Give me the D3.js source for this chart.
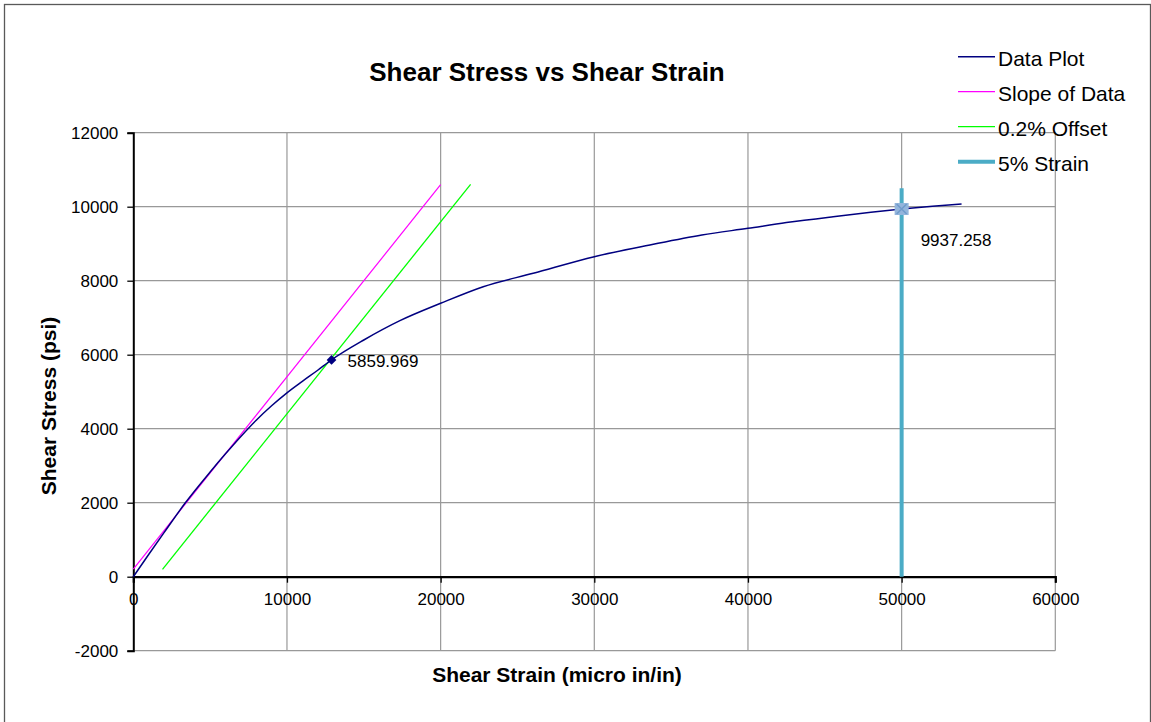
<!DOCTYPE html>
<html>
<head>
<meta charset="utf-8">
<script src="https://cdn.jsdelivr.net/npm/d3@7"></script>
<style>
  html, body { margin: 0; padding: 0; background: #fff; }
  svg { display: block; font-family: "Liberation Sans", Arial, sans-serif; }
</style>
</head>
<body>
<svg id="chart" width="1151" height="722"></svg>
<script>
// Measured shear test data (micro in/in vs psi)
const strain = [0, 1000, 2000, 3364, 5000, 6000, 7000, 8000, 9000, 10000, 11000, 12000, 12900,
                15000, 17350, 20000, 22770, 26025, 30000, 33620, 37000, 40000, 42500, 45540,
                48000, 50000, 52000, 53900];
const stress = [0, 600, 1190, 1984, 2830, 3320, 3790, 4230, 4620, 4970, 5280, 5580, 5860,
                6397, 6919, 7389, 7838, 8200, 8649, 8965, 9235, 9416, 9570, 9730,
                9850, 9937, 10010, 10073];

// Linear fit of the elastic region
const slopeX = [0, 20000];
const slopeY = [208, 10595];

// Same line shifted by the 0.2% offset
const offsetX = [1900, 21950];
const offsetY = [200, 10605];

// 5% strain reference line
const strainLineX = [50000, 50000];
const strainLineY = [0, 10500];

// Highlighted points
const yieldPoint = { x: 12900, y: 5859.969 };
const fivePctPoint = { x: 50000, y: 9937.258 };

const xTicks = [0, 10000, 20000, 30000, 40000, 50000, 60000];
const yTicks = [-2000, 0, 2000, 4000, 6000, 8000, 10000, 12000];

const legendLabels = ["Data Plot", "Slope of Data", "0.2% Offset", "5% Strain"];
const legendColors = ["#000080", "#FF00FF", "#00FF00", "#4BACC6"];
const legendWidths = [1.5, 1.2, 1.2, 4];

const svg = d3.select("#chart");

// chart border
svg.append("rect")
  .attr("x", 4.5).attr("y", 4.5)
  .attr("width", 1146).attr("height", 730)
  .attr("fill", "none").attr("stroke", "#595959").attr("stroke-width", 1.3);

const x = d3.scaleLinear().domain([0, 60000]).range([133.3, 1055.3]);
const y = d3.scaleLinear().domain([-2000, 12000]).range([650.7, 132.7]);

// gridlines
const grid = svg.append("g").attr("stroke", "#999").attr("stroke-width", 1.2);
grid.selectAll("line.v").data(xTicks.slice(1)).join("line")
  .attr("x1", d => x(d)).attr("x2", d => x(d))
  .attr("y1", y(-2000)).attr("y2", y(12000));
grid.selectAll("line.h").data(yTicks).join("line")
  .attr("x1", x(0)).attr("x2", x(60000))
  .attr("y1", d => y(d)).attr("y2", d => y(d));

const plain = d => String(d);

// y axis at x = 0
const yAxis = d3.axisLeft(y).tickValues(yTicks).tickSize(6).tickPadding(9).tickFormat(plain);
const gy = svg.append("g").attr("transform", `translate(${x(0)},0)`).call(yAxis);
gy.select(".domain").attr("stroke", "#000").attr("stroke-width", 2);
gy.selectAll(".tick line").attr("stroke", "#000").attr("stroke-width", 1.3);
gy.selectAll(".tick text").attr("font-size", 17).attr("fill", "#000")
  .attr("font-family", "Liberation Sans, Arial, sans-serif");

// x axis at y = 0
const xAxis = d3.axisBottom(x).tickValues(xTicks).tickSize(6).tickPadding(10).tickFormat(plain);
const gx = svg.append("g").attr("transform", `translate(0,${y(0)})`).call(xAxis);
gx.select(".domain").attr("stroke", "#000").attr("stroke-width", 2.2);
gx.selectAll(".tick line").attr("stroke", "#000").attr("stroke-width", 1.3);
gx.selectAll(".tick text").attr("font-size", 17).attr("fill", "#000")
  .attr("font-family", "Liberation Sans, Arial, sans-serif");

const line = d3.line().x(d => x(d[0])).y(d => y(d[1]));

// slope and offset lines
svg.append("path").datum(d3.zip(slopeX, slopeY))
  .attr("d", line).attr("fill", "none").attr("stroke", "#FF00FF").attr("stroke-width", 1.2);
svg.append("path").datum(d3.zip(offsetX, offsetY))
  .attr("d", line).attr("fill", "none").attr("stroke", "#00FF00").attr("stroke-width", 1.3);

// 5% strain line
svg.append("path").datum(d3.zip(strainLineX, strainLineY))
  .attr("d", line).attr("fill", "none").attr("stroke", "#4BACC6").attr("stroke-width", 4);

// data curve
svg.append("path").datum(d3.zip(strain, stress))
  .attr("d", line.curve(d3.curveMonotoneX)).attr("fill", "none")
  .attr("stroke", "#000080").attr("stroke-width", 1.5);

// yield marker
svg.append("path")
  .attr("d", d3.symbol(d3.symbolDiamond2, 60)())
  .attr("transform", `translate(${x(yieldPoint.x)},${y(yieldPoint.y)})`)
  .attr("fill", "#000080");
svg.append("text")
  .attr("x", x(yieldPoint.x) + 16).attr("y", y(yieldPoint.y) + 7)
  .attr("font-size", 17).text(yieldPoint.y.toFixed(3));

// 5% strain marker
const m = svg.append("g").attr("transform", `translate(${x(fivePctPoint.x)},${y(fivePctPoint.y)})`);
m.append("rect").attr("x", -7).attr("y", -6).attr("width", 14).attr("height", 12).attr("fill", "#93B5DC");
m.append("path").attr("d", "M-5,-5L5,5M-5,5L5,-5").attr("stroke", "#6F9BCB").attr("stroke-width", 1.5);
svg.append("text")
  .attr("x", x(fivePctPoint.x) + 19).attr("y", y(fivePctPoint.y) + 37)
  .attr("font-size", 17).text(fivePctPoint.y.toFixed(3));

// titles
svg.append("text").attr("x", 547).attr("y", 81).attr("text-anchor", "middle")
  .attr("font-size", 26).attr("font-weight", "bold").text("Shear Stress vs Shear Strain");
svg.append("text").attr("x", 557).attr("y", 682).attr("text-anchor", "middle")
  .attr("font-size", 21).attr("font-weight", "bold").text("Shear Strain (micro in/in)");
svg.append("text").attr("transform", "translate(56,406) rotate(-90)").attr("text-anchor", "middle")
  .attr("font-size", 21).attr("font-weight", "bold").text("Shear Stress (psi)");

// legend
const lg = svg.append("g").selectAll("g").data(legendLabels).join("g")
  .attr("transform", (d, i) => `translate(0,${56.7 + i * 35})`);
lg.append("line").attr("x1", 958).attr("x2", 995).attr("y1", 0).attr("y2", 0)
  .attr("stroke", (d, i) => legendColors[i]).attr("stroke-width", (d, i) => legendWidths[i]);
lg.append("text").attr("x", 998).attr("y", 9).attr("font-size", 21).text(d => d);
</script>
</body>
</html>
